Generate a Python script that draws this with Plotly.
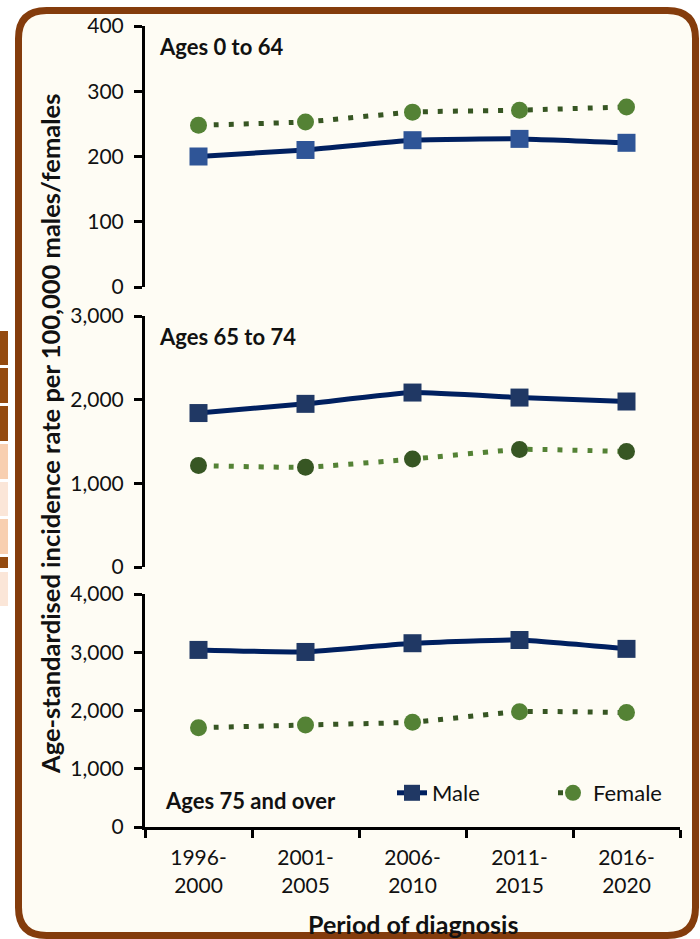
import plotly.graph_objects as go

# ---------------- data ----------------
periods = ["1996-<br>2000", "2001-<br>2005", "2006-<br>2010", "2011-<br>2015", "2016-<br>2020"]

male_0_64 = [200, 210, 225, 227, 221]
female_0_64 = [248, 253, 268, 271, 276]

male_65_74 = [1840, 1950, 2085, 2025, 1978]
female_65_74 = [1212, 1192, 1290, 1405, 1380]

male_75 = [3040, 3005, 3155, 3210, 3058]
female_75 = [1705, 1752, 1800, 1980, 1965]

panel_labels = ["Ages 0 to 64", "Ages 65 to 74", "Ages 75 and over"]
y_ranges = [[0, 400], [0, 3000], [0, 4000]]
y_dticks = [100, 1000, 1000]

# ---------------- styling ----------------
W, H = 700, 939
FONT = "Lato"
NAVY = "#002060"
GREEN_L = "#548235"
GREEN_D = "#375623"
BROWN = "#843C0C"
CREAM = "#FEFCF4"


def px_x(p):
    return p / W


def px_y(p):
    return 1 - p / H


# panel domains (pixel top/bottom)
panels_px = [(26, 287), (316, 567), (594, 827)]
x_dom = [px_x(145), px_x(680)]

fig = go.Figure()

series = [
    (male_0_64, female_0_64, "#2F5597", GREEN_L, GREEN_D),
    (male_65_74, female_65_74, "#203864", GREEN_D, GREEN_L),
    (male_75, female_75, "#203864", GREEN_L, GREEN_D),
]

for i, (m, f, mcol, fmark, fline) in enumerate(series):
    xa = "x" if i == 0 else f"x{i+1}"
    ya = "y" if i == 0 else f"y{i+1}"
    last = i == 2
    fig.add_trace(go.Scatter(
        x=periods, y=m, xaxis=xa, yaxis=ya, name="Male", mode="lines+markers",
        line=dict(color=NAVY, width=5, shape="spline", smoothing=0.4),
        marker=dict(symbol="square", size=18, color=mcol, line=dict(width=0)),
        showlegend=last, cliponaxis=False,
    ))
    fig.add_trace(go.Scatter(
        x=periods, y=f, xaxis=xa, yaxis=ya, name="Female", mode="lines+markers",
        line=dict(color=fline, width=5, dash="5px,10px", shape="spline", smoothing=0.4),
        marker=dict(symbol="circle", size=17, color=fmark, line=dict(width=0)),
        showlegend=last, cliponaxis=False,
    ))

axis_font = dict(family=FONT, size=21, color="#111111")

layout = dict(
    width=W, height=H, autosize=False,
    margin=dict(l=0, r=0, t=0, b=0, pad=0, autoexpand=False),
    paper_bgcolor="white",
    plot_bgcolor="rgba(0,0,0,0)",
    separators=".,",
    font=dict(family=FONT, size=21, color="#111111"),
    legend=dict(
        orientation="h", x=px_x(392), y=px_y(793), xanchor="left", yanchor="middle",
        bgcolor="rgba(0,0,0,0)", font=dict(family=FONT, size=22, color="#111111"),
        entrywidth=116, entrywidthmode="pixels", tracegroupgap=0,
    ),
)

for i, (top, bot) in enumerate(panels_px):
    xk = "xaxis" if i == 0 else f"xaxis{i+1}"
    yk = "yaxis" if i == 0 else f"yaxis{i+1}"
    ya = "y" if i == 0 else f"y{i+1}"
    last = i == 2
    layout[xk] = dict(
        domain=x_dom, anchor=ya, type="category", categoryarray=periods,
        range=[-0.5, 4.5], showgrid=False, zeroline=False, automargin=False,
        showline=last, linecolor="black", linewidth=3,
        ticks="outside" if last else "", tickson="boundaries", ticklen=8,
        tickwidth=3, tickcolor="black", ticklabelstandoff=10,
        showticklabels=last, tickfont=axis_font, fixedrange=True,
    )
    if not last:
        layout[xk]["matches"] = "x3"
    layout[yk] = dict(
        domain=[px_y(bot), px_y(top)], anchor="x" if i == 0 else f"x{i+1}",
        range=y_ranges[i], dtick=y_dticks[i], tick0=0, tickformat=",d",
        showgrid=False, zeroline=False, showline=True, linecolor="black",
        linewidth=3, ticks="outside", ticklen=8, tickwidth=3, tickcolor="black",
        tickfont=axis_font, ticklabelstandoff=6, fixedrange=True, automargin=False,
    )

fig.update_layout(**layout)

# frame (rounded rectangle) and edge stripes
L, T, R, B, r = 18.5, 10.5, 695.5, 935.5, 28
rx, ry = r / W, r / H
x0, x1 = px_x(L), px_x(R)
y0, y1 = px_y(B), px_y(T)
path = (
    f"M {x0+rx},{y1} L {x1-rx},{y1} Q {x1},{y1} {x1},{y1-ry} "
    f"L {x1},{y0+ry} Q {x1},{y0} {x1-rx},{y0} "
    f"L {x0+rx},{y0} Q {x0},{y0} {x0},{y0+ry} "
    f"L {x0},{y1-ry} Q {x0},{y1} {x0+rx},{y1} Z"
)
fig.add_shape(type="path", path=path, xref="paper", yref="paper",
              fillcolor=CREAM, line=dict(color=BROWN, width=7), layer="below")

stripes = [(331, 365, "#944A0F"), (368, 403, "#944A0F"), (406, 441, "#944A0F"),
           (444, 479, "#F8CFB0"), (482, 516, "#FBE6D8"), (519, 554, "#F8CFB0"),
           (557, 568, "#944A0F"), (572, 606, "#FBE6D8")]
for a, b, c in stripes:
    fig.add_shape(type="rect", xref="paper", yref="paper", x0=0, x1=px_x(8),
                  y0=px_y(b), y1=px_y(a), fillcolor=c, line=dict(width=0), layer="below")

# panel labels
label_pos = [(157, 47), (157, 336), (163, 800)]
for txt, (lx, ly) in zip(panel_labels, label_pos):
    fig.add_annotation(text=f"<b>{txt}</b>", x=px_x(lx), y=px_y(ly), xref="paper", yref="paper",
                       xanchor="left", yanchor="middle", showarrow=False,
                       font=dict(family=FONT, size=22, color="#111111"))

# axis titles
fig.add_annotation(text="<b>Age-standardised incidence rate per 100,000 males/females</b>",
                   x=px_x(50), y=px_y(434), xref="paper", yref="paper", textangle=-90,
                   showarrow=False, xanchor="center", yanchor="middle",
                   font=dict(family=FONT, size=25.5, color="#111111"))
fig.add_annotation(text="<b>Period of diagnosis</b>", x=px_x(413), y=px_y(924),
                   xref="paper", yref="paper", showarrow=False, xanchor="center", yanchor="middle",
                   font=dict(family=FONT, size=25, color="#111111"))

fig.write_html("out.html",
               config={"displayModeBar": False, "staticPlot": True},
               post_script="document.body.style.margin='0';document.body.style.overflow='hidden';")
